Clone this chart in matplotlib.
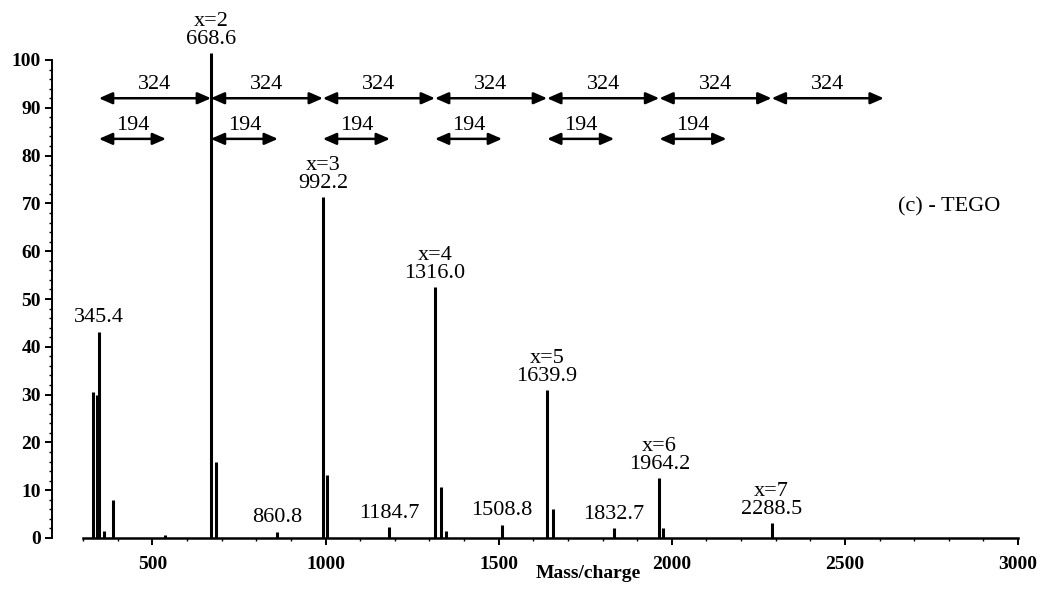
import matplotlib
matplotlib.use("Agg")
import matplotlib.pyplot as plt
import numpy as np
from matplotlib.ticker import FixedLocator

plt.rcParams["font.family"] = ["Liberation Serif", "DejaVu Serif"]

# spectrum lines: m/z and relative intensity (%)
peak_mz = [329.0, 339.0, 345.4, 361.0, 385.0, 537.0,
           668.6, 683.0, 860.8,
           992.2, 1004.6, 1184.7,
           1316.0, 1334.5, 1347.0, 1508.8,
           1639.9, 1656.0, 1832.7,
           1964.2, 1975.0, 2288.5]
peak_int = [30.5, 30.0, 43.2, 1.5, 8.0, 0.7,
            101.5, 15.8, 1.2,
            71.3, 13.2, 2.2,
            52.5, 10.7, 1.5, 2.7,
            31.0, 6.1, 2.0,
            12.5, 2.0, 3.2]

# labelled oligomer peaks (x = number of repeat units)
series_mz = [668.6, 992.2, 1316.0, 1639.9, 1964.2, 2288.5]
series_int = [101.5, 71.3, 52.5, 31.0, 12.5, 3.2]
series_n = [2, 3, 4, 5, 6, 7]

# other labelled peaks
minor_mz = [345.4, 860.8, 1184.7, 1508.8, 1832.7]
minor_int = [43.2, 1.2, 2.2, 2.7, 2.0]

# spacing arrows
step_long = 324
long_start = [345.4, 668.6, 992.2, 1316.0, 1639.9, 1964.2, 2288.5]
step_short = 194
short_start = [345.4, 668.6, 992.2, 1316.0, 1639.9, 1964.2]

fig = plt.figure(figsize=(10.53, 5.97), dpi=100)
ax = fig.add_axes([52 / 1053, 59 / 597, 966 / 1053, 102 * 4.78 / 597])

ax.vlines(peak_mz, 0, peak_int, color="black", lw=2.2, clip_on=False)

fs = 16
for mz, h, n in zip(series_mz, series_int, series_n):
    ax.annotate(f"x={n}\n{mz:.1f}", (mz, h), xytext=(0, 3), textcoords="offset points",
                ha="center", va="bottom", fontsize=fs, linespacing=0.9,
                annotation_clip=False)
for mz, h in zip(minor_mz, minor_int):
    ax.annotate(f"{mz:.1f}", (mz, h), xytext=(0, 3.5), textcoords="offset points",
                ha="center", va="bottom", fontsize=fs, annotation_clip=False)

arrow = dict(arrowstyle="<|-|>,head_length=0.8,head_width=0.35", color="black",
             lw=1.8, shrinkA=0, shrinkB=0, mutation_scale=10)
y_long, y_short = 92.0, 83.5
for x0 in long_start:
    ax.annotate("", xy=(x0 + step_long, y_long), xytext=(x0, y_long), arrowprops=arrow,
                annotation_clip=False)
    ax.text(x0 + step_long / 2, y_long + 0.8, str(step_long), ha="center", va="bottom",
            fontsize=fs)
for x0 in short_start:
    ax.annotate("", xy=(x0 + step_short, y_short), xytext=(x0, y_short), arrowprops=arrow,
                annotation_clip=False)
    ax.text(x0 + step_short / 2, y_short + 0.8, str(step_short), ha="center", va="bottom",
            fontsize=fs)

ax.text(2800, 69.2, "(c) - TEGO", ha="center", va="center", fontsize=fs)

ax.set_xlim(210, 3000)
ax.set_ylim(0, 102)
for side in ("top", "right"):
    ax.spines[side].set_visible(False)
ax.spines["bottom"].set_bounds(300, 3000)
ax.spines["bottom"].set_linewidth(1.8)
ax.spines["left"].set_bounds(0, 100)
ax.spines["left"].set_linewidth(1.4)

ax.set_xticks([500, 1000, 1500, 2000, 2500, 3000])
ax.xaxis.set_minor_locator(FixedLocator(np.arange(300, 3001, 100)))
ax.set_yticks(np.arange(0, 101, 10))
ax.yaxis.set_minor_locator(FixedLocator(np.arange(0, 101, 2)))
ax.tick_params(axis="both", which="major", length=5, width=1.4, labelsize=14)
ax.tick_params(axis="x", which="major", pad=8)
ax.tick_params(axis="y", which="major", pad=3)
ax.tick_params(axis="both", which="minor", length=2.5, width=1.0)
for lab in ax.get_xticklabels() + ax.get_yticklabels():
    lab.set_fontweight("bold")

ax.set_xlabel("Mass/charge", fontsize=14, fontweight="bold")
ax.xaxis.set_label_coords((588 - 52) / 966, -0.055)

fig.savefig("out.png", dpi=100)
